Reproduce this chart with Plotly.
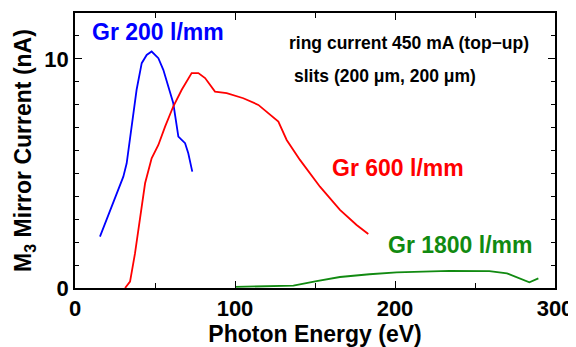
import plotly.graph_objects as go

# Gr 200 l/mm
e200 = [15.6, 20.8, 25.0, 30.2, 32.3, 35.4, 38.5, 41.7, 44.8, 47.9, 52.1, 55.2, 58.3, 61.4, 64.6, 68.8, 70.8, 73.3]
i200 = [2.24, 3.19, 3.92, 4.86, 5.44, 7.04, 8.65, 9.81, 10.17, 10.32, 10.03, 9.52, 8.79, 8.07, 6.61, 6.32, 5.88, 5.08]

# Gr 600 l/mm
e600 = [31.3, 34.4, 37.5, 40.6, 43.8, 47.9, 52.1, 56.3, 61.4, 66.7, 72.9, 77.1, 81.3, 87.5, 94.8, 105.2,
        114.6, 127.1, 132.3, 140.6, 153.1, 165.6, 176.0, 183.3]
i600 = [0.0, 0.28, 1.51, 3.11, 4.57, 5.66, 6.24, 7.04, 7.92, 8.65, 9.38, 9.38, 9.16, 8.57, 8.50, 8.28,
        7.99, 7.26, 6.46, 5.59, 4.42, 3.41, 2.75, 2.36]

# Gr 1800 l/mm
e1800 = [100.0, 136.5, 151.0, 165.6, 184.0, 201.0, 234.0, 259.0, 270.0, 278.0, 284.0, 289.6]
i1800 = [0.05, 0.10, 0.30, 0.48, 0.60, 0.68, 0.75, 0.74, 0.64, 0.42, 0.25, 0.42]

x_ticks = [0, 100, 200, 300]
y_ticks = [0, 10]

BLUE = "#0000ff"
RED = "#ff0000"
GREEN = "#118a11"
FONT = "Liberation Sans, Arial, sans-serif"

# the page body has an 8px default margin, so the figure is offset to compensate
OFF = 8
fig = go.Figure()
fig.add_trace(go.Scatter(x=e200, y=i200, mode="lines", line=dict(color=BLUE, width=1.8)))
fig.add_trace(go.Scatter(x=e600, y=i600, mode="lines", line=dict(color=RED, width=1.8)))
fig.add_trace(go.Scatter(x=e1800, y=i1800, mode="lines", line=dict(color=GREEN, width=1.8)))

fig.update_layout(
    width=576 - OFF, height=347 - OFF,
    margin=dict(l=75 - OFF, r=21, t=13 - OFF, b=59),
    paper_bgcolor="white", plot_bgcolor="white",
    showlegend=False,
    font=dict(family=FONT, size=22, color="black", weight="bold"),
)
fig.update_xaxes(
    range=[0, 300], tickvals=x_ticks, ticks="inside", ticklen=7, tickwidth=1, tickcolor="black",
    minor=dict(ticks="inside", dtick=50, ticklen=5, tickcolor="black"),
    showline=True, linecolor="black", linewidth=1.5, mirror="ticks", showgrid=False, zeroline=False,
    title=dict(text="Photon Energy (eV)", font=dict(size=23, weight="bold"), standoff=2),
    tickfont=dict(size=22, weight="bold"), ticklabeloverflow="allow", automargin=False,
)
fig.update_yaxes(
    range=[0, 12], tickvals=y_ticks, ticks="inside", ticklen=7, tickwidth=1, tickcolor="black",
    minor=dict(ticks="inside", dtick=1, ticklen=4, tickcolor="black"),
    showline=True, linecolor="black", linewidth=1.5, mirror="ticks", showgrid=False, zeroline=False,
    title=dict(text="M<sub>3</sub> Mirror Current (nA)", font=dict(size=23, weight="bold"), standoff=6),
    tickfont=dict(size=22, weight="bold"), ticklabeloverflow="allow", automargin=False,
)

annots = [
    ("Gr 200 l/mm", 158, 32, BLUE, 23),
    ("ring current 450 mA (top−up)", 409, 43, "black", 17.5),
    ("slits (200 μm, 200 μm)", 385, 76, "black", 17.5),
    ("Gr 600 l/mm", 398, 168, RED, 23),
    ("Gr 1800 l/mm", 460, 245, GREEN, 23),
]
for txt, px, py, col, sz in annots:
    fig.add_annotation(
        x=(px - 75) / 480, y=(288 - py) / 275, xref="paper", yref="paper",
        text=txt, showarrow=False, xanchor="center", yanchor="middle",
        font=dict(color=col, size=sz, family=FONT, weight="bold"),
    )

fig.write_html("out.html")
